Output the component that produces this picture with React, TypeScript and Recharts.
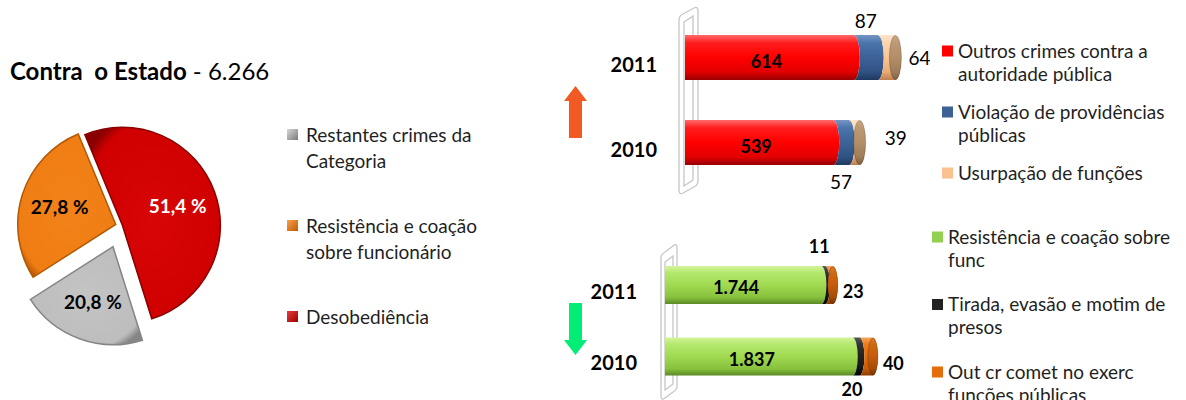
import { PieChart, Pie, Cell, BarChart, Bar, XAxis, YAxis, LabelList } from 'recharts'

const FONT = 'Lato, "Open Sans", sans-serif'
const TEXT = '#1f1f1f'
const RAD = Math.PI / 180

// ---- pie: Contra o Estado ----
const pieTitle = 'Contra  o Estado'
const pieTotal = '6.266'
const pieSlices = ['Desobediência', 'Restantes crimes da Categoria', 'Resistência e coação sobre funcionário']
const pieShares = [51.4, 20.8, 27.8]
const pieExplode = [2, 22, 5]
const pieGrad = [
  ['#d80606', '#d00000', '#8a0000'],
  ['#c4c4c4', '#bdbdbd', '#858585'],
  ['#f3821a', '#ef7d13', '#b35804'],
]
const pieLabelColor = ['#ffffff', '#000000', '#000000']
const pieLegend = [
  { slice: 1, lines: ['Restantes crimes da', 'Categoria'] },
  { slice: 2, lines: ['Resistência e coação', 'sobre funcionário'] },
  { slice: 0, lines: ['Desobediência'] },
]
const pieMarker = ['linear-gradient(135deg,#e04040,#a00000)', 'linear-gradient(135deg,#d8d8d8,#7a7a7a)', 'linear-gradient(135deg,#f8a050,#c05a00)']

const PIE_START = 112.5
const PIE_CX = 120.5
const PIE_CY = 226
const PIE_R = 98

// ---- bars ----
const years = ['2011', '2010']

const outrosCrimes = [614, 539]
const violacao = [87, 57]
const usurpacao = [64, 39]

const resistencia = [1744, 1837]
const tirada = [11, 20]
const outCr = [23, 40]

const topSeries = [
  { key: 'outros', grad: 'gRed', color: '#ff0000', lines: ['Outros crimes contra a', 'autoridade pública'] },
  { key: 'violacao', grad: 'gBlue', color: '#3c6194', lines: ['Violação de providências', 'públicas'] },
  { key: 'usurpacao', grad: 'gPeach', color: '#fac090', lines: ['Usurpação de funções'] },
]
const bottomSeries = [
  { key: 'resistencia', grad: 'gGreen', color: '#92d050', lines: ['Resistência e coação sobre', 'func'] },
  { key: 'tirada', grad: 'gBlack', color: '#222222', lines: ['Tirada, evasão e motim de', 'presos'] },
  { key: 'outCr', grad: 'gOrange', color: '#e46c0a', lines: ['Out cr comet no exerc', 'funções públicas'] },
]

const topData = years.map((year, i) => ({
  year,
  outros: outrosCrimes[i],
  violacao: violacao[i],
  usurpacao: usurpacao[i],
}))
const bottomData = years.map((year, i) => ({
  year,
  resistencia: resistencia[i],
  tirada: tirada[i],
  outCr: outCr[i],
}))

const fmtThousands = (v: number) => String(v).replace(/\B(?=(\d{3})+(?!\d))/g, '.')
const fmtPct = (v: number) => v.toFixed(1).replace('.', ',') + ' %'

// mid angle of every slice, used to push it out from the centre
const pieSum = pieShares.reduce((a, b) => a + b, 0)
const pieMids = pieShares.map((v, i) => {
  const before = pieShares.slice(0, i).reduce((a, b) => a + b, 0)
  return PIE_START - ((before + v / 2) / pieSum) * 360
})

const gradStops = (id: string, c: string[]) => (
  <linearGradient id={id} x1="0" y1="0" x2="0" y2="1" key={id}>
    <stop offset="0" stopColor={c[0]} />
    <stop offset="0.18" stopColor={c[1]} />
    <stop offset="0.5" stopColor={c[2]} />
    <stop offset="0.82" stopColor={c[3]} />
    <stop offset="1" stopColor={c[4]} />
  </linearGradient>
)

const BarDefs = () => (
  <defs>
    {gradStops('gRed', ['#ff6a6a', '#ff1c1c', '#ff0000', '#e20000', '#980000'])}
    {gradStops('gBlue', ['#7696c4', '#4a74aa', '#3c6297', '#305283', '#1e385e'])}
    {gradStops('gPeach', ['#fee4cb', '#fdd3ab', '#fac592', '#e9ab74', '#bd7f4e'])}
    {gradStops('gCapTop', ['#c9a783', '#bc9873', '#b28e69', '#a07d5a', '#7e6044'])}
    {gradStops('gGreen', ['#d2f59a', '#b4e86e', '#a0da50', '#88c23e', '#5b8a26'])}
    {gradStops('gBlack', ['#5a5a5a', '#333333', '#222222', '#151515', '#000000'])}
    {gradStops('gOrange', ['#f7a45a', '#ee7c1c', '#e46c0a', '#c95a06', '#8a3c02'])}
    {gradStops('gCapBot', ['#de7a2a', '#cf6712', '#c45c0c', '#a84c08', '#7c3602'])}
  </defs>
)

// cylinder segment: concave left edge, convex right edge, optional end cap
const cylinder = (grad: string, rx: number, first: boolean, cap?: string) => (props: any) => {
  const { x, y, width, height } = props
  if (!width || width <= 0 || !height) return <g />
  const ry = height / 2
  const x2 = x + width
  const leftEdge = first ? `A3,${ry} 0 0 1 ${x},${y}` : `A${rx},${ry} 0 0 0 ${x},${y}`
  const d = `M${x},${y} L${x2},${y} A${rx},${ry} 0 0 1 ${x2},${y + height} L${x},${y + height} ${leftEdge} Z`
  return (
    <g>
      <path d={d} fill={`url(#${grad})`} />
      {cap && <ellipse cx={x2} cy={y + ry} rx={rx} ry={ry - 0.5} fill={`url(#${cap})`} stroke="rgba(0,0,0,0.25)" strokeWidth={0.8} />}
    </g>
  )
}

const YearTick = ({ x, y, payload, dy }: any) => (
  <text x={x} y={y + dy} textAnchor="end" dominantBaseline="central" fontFamily={FONT} fontWeight={700} fontSize={20} fill="#000">
    {payload.value}
  </text>
)

const labelText = (x: number, y: number, text: string, bold: boolean, anchor = 'middle') => (
  <text x={x} y={y} textAnchor={anchor} dominantBaseline="central" fontFamily={FONT} fontWeight={bold ? 700 : 400} fontSize={18} fill="#000">
    {text}
  </text>
)

const box = (p: any) => {
  const vb = p.viewBox && p.viewBox.width !== undefined ? p.viewBox : p
  return { x: Number(vb.x), y: Number(vb.y), w: Number(vb.width), h: Number(vb.height), i: p.index, v: p.value }
}

const TOP_PLOT_LEFT = 95
const BOT_PLOT_LEFT = 85

const Legend = ({ items, x, y, gap, lineH, size, fontSize, textDx }: any) => (
  <g>
    {items.map((it: any, i: number) => {
      const cy = y + i * gap
      return (
        <g key={i}>
          <rect x={x} y={cy - size / 2 + 1} width={size} height={size} fill={it.color} />
          {it.lines.map((ln: string, j: number) => (
            <text key={j} x={x + textDx} y={cy + j * lineH} dominantBaseline="central" fontFamily={FONT} fontSize={fontSize} fill={TEXT}>
              {ln}
            </text>
          ))}
        </g>
      )
    })}
  </g>
)

export default function App() {
  const pieData = pieSlices.map((name, i) => ({ name, value: pieShares[i] }))

  const pieLabel = (slice: number) => (p: any) => {
    if (p.index !== slice) return null
    const r = p.outerRadius * 0.6
    const a = -p.midAngle * RAD
    return (
      <text x={p.cx + r * Math.cos(a)} y={p.cy + r * Math.sin(a)} textAnchor="middle" dominantBaseline="central" fontFamily={FONT} fontWeight={700} fontSize={19} fill={pieLabelColor[slice]}>
        {fmtPct(pieShares[slice])}
      </text>
    )
  }

  return (
    <div style={{ position: 'absolute', left: 0, top: 0, width: 1186, height: 400, background: '#fff', overflow: 'hidden', fontFamily: FONT }}>
      {/* decorations, title and legends */}
      <svg width={1186} height={400} style={{ position: 'absolute', left: 0, top: 0 }}>
        <text x={10} y={80} fontFamily={FONT} fontSize={24} fill="#000" style={{ whiteSpace: 'pre' }}>
          <tspan fontWeight={700}>{pieTitle}</tspan>
          <tspan> - {pieTotal}</tspan>
        </text>

        {pieLegend.map((it, i) => (
          <g key={i}>
            <foreignObject x={287} y={129 + i * 91} width={11} height={11}>
              <div style={{ width: 11, height: 11, background: pieMarker[it.slice] }} />
            </foreignObject>
            {it.lines.map((ln, j) => (
              <text key={j} x={306} y={134 + i * 91 + j * 26} dominantBaseline="central" fontFamily={FONT} fontSize={19} fill={TEXT}>
                {ln}
              </text>
            ))}
          </g>
        ))}

        <Legend items={topSeries} x={942} y={50} gap={61} lineH={23} size={11} fontSize={19} textDx={16} />
        <Legend items={bottomSeries} x={932} y={236} gap={67.5} lineH={23} size={11} fontSize={19} textDx={16} />

        {/* 3-D walls */}
        <g fill="none" stroke="#c6c6c6" strokeWidth={1.3}>
          <path d="M679,20 Q679,16 683,14 L694,8 Q698,6 698,11 L698,181 Q698,185 694,187 L683,193 Q679,195 679,190 Z" />
          <path d="M684,22 L693,16 L693,180 L684,186 Z" />
          <path d="M661,258 Q661,254 665,252 L673,246 Q677,243 677,247 L677,386 Q677,390 673,392 L665,398 Q661,401 661,396 Z" />
          <path d="M665,262 L673,256 L673,384 L665,390 Z" />
        </g>

        {/* trend arrows */}
        <path d="M575.5,86 L587,101 L582,101 L582,138 L569,138 L569,101 L564,101 Z" fill="#f15a22" />
        <path d="M569,303 L582,303 L582,340 L587,340 L575.5,355 L564,340 L569,340 Z" fill="#00ee76" />
      </svg>

      {/* exploded pie */}
      <div style={{ position: 'absolute', left: 0, top: 0 }}>
        <PieChart width={280} height={400} margin={{ top: 0, right: 0, bottom: 0, left: 0 }}>
          <defs>
            {pieGrad.map((c, i) => (
              <radialGradient id={`pg${i}`} key={i} cx="0.5" cy="0.5" r="0.6">
                <stop offset="0" stopColor={c[0]} />
                <stop offset="0.88" stopColor={c[1]} />
                <stop offset="1" stopColor={c[2]} />
              </radialGradient>
            ))}
          </defs>
          {pieShares.map((_, s) => (
            <Pie
              key={s}
              data={pieData}
              dataKey="value"
              nameKey="name"
              cx={PIE_CX + pieExplode[s] * Math.cos(-pieMids[s] * RAD)}
              cy={PIE_CY + pieExplode[s] * Math.sin(-pieMids[s] * RAD)}
              innerRadius={0}
              outerRadius={PIE_R}
              startAngle={PIE_START}
              endAngle={PIE_START - 360}
              label={pieLabel(s)}
              labelLine={false}
              isAnimationActive={false}
            >
              {pieData.map((_, i) => (
                <Cell key={i} fill={i === s ? `url(#pg${s})` : 'none'} stroke={i === s ? pieGrad[s][2] : 'none'} strokeWidth={1.5} />
              ))}
            </Pie>
          ))}
        </PieChart>
      </div>

      {/* top: 2011 vs 2010, up */}
      <div style={{ position: 'absolute', left: 590, top: 0 }}>
        <BarChart width={340} height={200} data={topData} layout="vertical" margin={{ top: 15, right: 25, bottom: 15, left: 0 }} barSize={45}>
          <BarDefs />
          <XAxis type="number" hide domain={[0, 800]} allowDataOverflow />
          <YAxis type="category" dataKey="year" width={TOP_PLOT_LEFT} axisLine={false} tickLine={false} tickSize={0} tickMargin={28} tick={<YearTick dy={6} />} />
          <Bar dataKey="outros" stackId="a" isAnimationActive={false} shape={cylinder('gRed', 6, true)}>
            <LabelList
              dataKey="outros"
              content={(p: any) => {
                const b = box(p)
                return labelText(b.x + b.w / 2 - 3, b.y + b.h / 2 + 3, String(b.v), true)
              }}
            />
          </Bar>
          <Bar dataKey="violacao" stackId="a" isAnimationActive={false} shape={cylinder('gBlue', 6, false)}>
            <LabelList
              dataKey="violacao"
              content={(p: any) => {
                const b = box(p)
                const cy = b.i === 0 ? b.y - 15 : b.y + b.h + 16
                return <text x={b.x + b.w / 2} y={cy} textAnchor="middle" dominantBaseline="central" fontFamily={FONT} fontSize={19} fill="#000">{b.v}</text>
              }}
            />
          </Bar>
          <Bar dataKey="usurpacao" stackId="a" isAnimationActive={false} shape={cylinder('gPeach', 6, false, 'gCapTop')}>
            <LabelList
              dataKey="usurpacao"
              content={(p: any) => {
                const b = box(p)
                const dx = b.i === 0 ? 13 : 25
                const dy = b.i === 0 ? 0 : -5
                return <text x={b.x + b.w + dx} y={b.y + b.h / 2 + dy} dominantBaseline="central" fontFamily={FONT} fontSize={19} fill="#000">{b.v}</text>
              }}
            />
          </Bar>
        </BarChart>
      </div>

      {/* bottom: 2011 vs 2010, down */}
      <div style={{ position: 'absolute', left: 580, top: 220 }}>
        <BarChart width={340} height={180} data={bottomData} layout="vertical" margin={{ top: 29, right: 36, bottom: 8, left: 0 }} barSize={38}>
          <BarDefs />
          <XAxis type="number" hide domain={[1280, 1930]} allowDataOverflow />
          <YAxis type="category" dataKey="year" width={BOT_PLOT_LEFT} axisLine={false} tickLine={false} tickSize={0} tickMargin={28} tick={<YearTick dy={6} />} />
          <Bar dataKey="resistencia" stackId="b" isAnimationActive={false} shape={cylinder('gGreen', 5, true)}>
            <LabelList
              dataKey="resistencia"
              content={(p: any) => {
                const b = box(p)
                const left = Math.max(b.x, BOT_PLOT_LEFT)
                return labelText((left + b.x + b.w) / 2 - 7, b.y + b.h / 2 + 2, fmtThousands(b.v), true)
              }}
            />
          </Bar>
          <Bar dataKey="tirada" stackId="b" isAnimationActive={false} shape={cylinder('gBlack', 5, false)}>
            <LabelList
              dataKey="tirada"
              content={(p: any) => {
                const b = box(p)
                const cy = b.i === 0 ? b.y - 20 : b.y + b.h + 13
                return labelText(b.x + b.w / 2 - 4, cy, String(b.v), true)
              }}
            />
          </Bar>
          <Bar dataKey="outCr" stackId="b" isAnimationActive={false} shape={cylinder('gOrange', 5, false, 'gCapBot')}>
            <LabelList
              dataKey="outCr"
              content={(p: any) => {
                const b = box(p)
                return labelText(b.x + b.w + 10, b.y + b.h / 2 + 6, String(b.v), true, 'start')
              }}
            />
          </Bar>
        </BarChart>
      </div>
    </div>
  )
}
